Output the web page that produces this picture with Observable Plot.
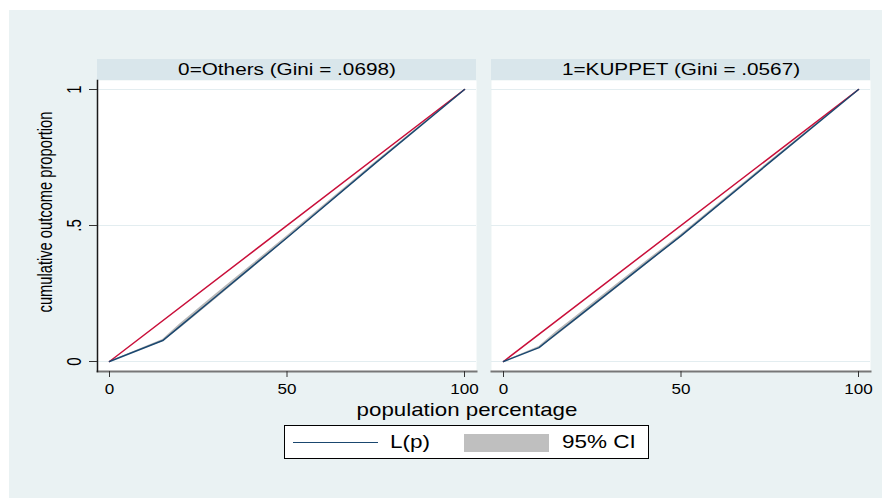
<!DOCTYPE html>
<html>
<head>
<meta charset="utf-8">
<script src="https://cdn.jsdelivr.net/npm/d3@7"></script>
<script src="https://cdn.jsdelivr.net/npm/@observablehq/plot@0.6"></script>
<style>
  html, body { margin: 0; padding: 0; background: #ffffff; }
  #wrap { position: relative; width: 888px; height: 501px; overflow: hidden; font-family: "Liberation Sans", Arial, sans-serif; }
  #bg { position: absolute; left: 9px; top: 10px; width: 873px; height: 488px; background: #eaf2f3; }
  #chart { position: absolute; left: 0; top: 0; }
  #legend { position: absolute; left: 284px; top: 425px; width: 363px; height: 32px; border: 1px solid #000; background: #fff; }
  #legend .ln { position: absolute; left: 8px; top: 16px; width: 85px; height: 0; border-top: 1.5px solid #1a476f; }
  #legend .txt { position: absolute; top: 5px; font-size: 18px; line-height: 22px; color: #000; transform: scaleX(1.25); transform-origin: 0 50%; white-space: nowrap; }
  #legend .t1 { left: 105px; }
  #legend .sw { position: absolute; left: 179px; top: 8px; width: 85px; height: 18px; background: #bfbfbf; }
  #legend .t2 { left: 277px; }
</style>
</head>
<body>
<div id="wrap">
  <div id="bg"></div>
  <div id="chart"></div>
  <div id="legend"><div class="ln"></div><div class="txt t1">L(p)</div><div class="sw"></div><div class="txt t2">95% CI</div></div>
</div>
<script>
// ---- data ----
const categories = ["0=Others (Gini = .0698)", "1=KUPPET (Gini = .0567)"];
const xTicks = [0, 50, 100];
const yTicks = [0, 0.5, 1];
const yTickLabels = ["0", ".5", "1"];

const pctOthers = [0, 15, 20, 30, 40, 50, 75, 100];
const lpOthers  = [0, 0.077, 0.131, 0.239, 0.347, 0.455, 0.730, 1];
const loOthers  = [0, 0.073, 0.122, 0.230, 0.339, 0.449, 0.726, 1];
const hiOthers  = [0, 0.081, 0.140, 0.248, 0.355, 0.461, 0.734, 1];

const pctKuppet = [0, 10, 15, 20, 30, 40, 50, 75, 100];
const lpKuppet  = [0, 0.051, 0.103, 0.154, 0.257, 0.360, 0.462, 0.732, 1];
const loKuppet  = [0, 0.047, 0.095, 0.146, 0.249, 0.353, 0.457, 0.728, 1];
const hiKuppet  = [0, 0.055, 0.111, 0.162, 0.265, 0.367, 0.467, 0.736, 1];

const equalityPct = [0, 100];
const equalityL = [0, 1];

// ---- tables ----
const rows = [];
pctOthers.forEach((p, i) => rows.push({group: categories[0], p, l: lpOthers[i], lo: loOthers[i], hi: hiOthers[i]}));
pctKuppet.forEach((p, i) => rows.push({group: categories[1], p, l: lpKuppet[i], lo: loKuppet[i], hi: hiKuppet[i]}));
const equality = [];
categories.forEach(g => equalityPct.forEach((p, i) => equality.push({group: g, p, l: equalityL[i]})));

const W = 888, H = 501, ML = 97, MR = 18, MT = 80, MB = 130;
const padInner = 0.0381;

const chart = Plot.plot({
  width: W, height: H,
  marginLeft: ML, marginRight: MR, marginTop: MT, marginBottom: MB,
  style: {background: "transparent", fontFamily: "'Liberation Sans', Arial, sans-serif", fontSize: "14px", color: "#000", overflow: "visible"},
  fx: {domain: categories, paddingInner: padInner, paddingOuter: 0, label: null},
  x: {domain: [0, 100], insetLeft: 12, insetRight: 12},
  y: {domain: [0, 1], insetTop: 9, insetBottom: 10},
  marks: [
    Plot.frame({fill: "#ffffff", stroke: null}),
    Plot.gridY(yTicks, {stroke: "#e3edf0", strokeOpacity: 1, strokeWidth: 1}),
    Plot.areaY(rows, {fx: "group", x: "p", y1: "lo", y2: "hi", fill: "#b8b8b8", fillOpacity: 1}),
    Plot.line(equality, {fx: "group", x: "p", y: "l", stroke: "#c90f3a", strokeWidth: 1.5}),
    Plot.line(rows, {fx: "group", x: "p", y: "l", stroke: "#1a476f", strokeWidth: 1.5}),
    Plot.frame({anchor: "bottom", stroke: "#777777", strokeWidth: 2}),
    Plot.frame({anchor: "left", facetAnchor: "left", stroke: "#1a1a1a", strokeWidth: 1.5}),
    Plot.axisX({ticks: xTicks, tickSize: 6, tickPadding: 7, label: null, stroke: "#333", fontSize: 14}),
    Plot.axisY({ticks: yTicks, tickFormat: d => yTickLabels[yTicks.indexOf(d)], tickRotate: -90, tickSize: 8, tickPadding: 9, label: null, stroke: "#333", fontSize: 15}),
    Plot.axisFx({anchor: "top", tickSize: 0, tickPadding: 6, label: null, fontSize: 17})
  ]
});

document.getElementById("chart").appendChild(chart);

const svg = d3.select(chart);

// the reference's lettering is horizontally wide: stretch glyphs around their anchor
function stretchText(el, sx, sy) {
  const t = el.getAttribute("transform");
  if (t) {
    el.setAttribute("transform", t + ` scale(${sx},${sy})`);
  } else {
    const x = +(el.getAttribute("x") || 0), y = +(el.getAttribute("y") || 0);
    el.removeAttribute("x"); el.removeAttribute("y");
    el.setAttribute("transform", `translate(${x},${y}) scale(${sx},${sy})`);
  }
}
svg.selectAll("text").each(function() {
  const t = this.getAttribute("transform") || "";
  if (t.includes("rotate")) stretchText(this, 1, 1.3);
  else stretchText(this, 1.22, 1);
});

// facet header strips (behind the header text)
const step = (W - ML - MR) / (2 - padInner);
const band = step * (1 - padInner);
categories.forEach((g, i) => {
  svg.insert("rect", ":first-child")
    .attr("x", ML + i * step).attr("y", 59)
    .attr("width", band).attr("height", MT - 59)
    .attr("fill", "#d9e6eb");
});

// axis titles
svg.append("text")
  .attr("transform", "translate(467,416) scale(1.24,1)")
  .attr("text-anchor", "middle")
  .attr("font-size", 18)
  .attr("fill", "#000")
  .text("population percentage");
svg.append("text")
  .attr("transform", "translate(52,212) rotate(-90) scale(1,1.4)")
  .attr("text-anchor", "middle")
  .attr("font-size", 14.7)
  .attr("fill", "#000")
  .text("cumulative outcome proportion");
</script>
</body>
</html>
